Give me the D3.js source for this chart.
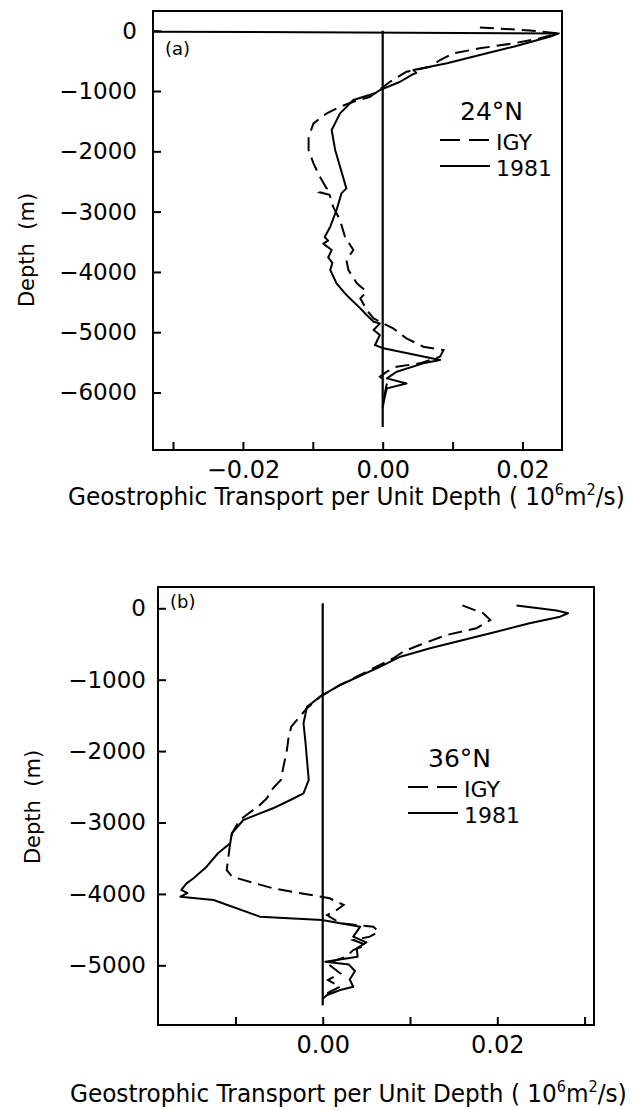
<!DOCTYPE html>
<html>
<head>
<meta charset="utf-8">
<script src="https://cdn.jsdelivr.net/npm/d3@7"></script>
<style>
body { margin: 0; background: #fff; }
text { font-family: "DejaVu Sans", sans-serif; fill: #000; }
</style>
</head>
<body>
<svg id="chart" width="634" height="1110"></svg>
<script>
// [transport (10^6 m^2/s per m), depth (m)]
var igy24 = [
    [0.0139, 55], [0.0175, 30], [0.0210, 5], [0.0250, -45], [0.0225, -126], [0.0187, -210],
    [0.0139, -292], [0.0101, -375], [0.0082, -486], [0.0068, -597], [0.0034, -680],
    [0.0010, -850], [-0.0018, -1095], [-0.0042, -1177], [-0.0061, -1260], [-0.0080, -1370],
    [-0.0099, -1536], [-0.0106, -1758], [-0.0106, -1978], [-0.0099, -2200], [-0.0090, -2421],
    [-0.0080, -2620], [-0.0090, -2680], [-0.0076, -2720], [-0.0071, -2919], [-0.0061, -3139],
    [-0.0054, -3416], [-0.0042, -3637], [-0.0052, -3803], [-0.0049, -3968], [-0.0037, -4189],
    [-0.0023, -4328], [-0.0032, -4438], [-0.0023, -4632], [-0.0013, -4770], [-0.0004, -4826],
    [0.0015, -4936], [0.0034, -5101], [0.0058, -5240], [0.0087, -5295], [0.0082, -5406],
    [0.0053, -5516], [0.0020, -5572], [0.0006, -5655], [-0.0004, -5738], [0.0006, -5849],
    [0.0003, -6014], [0.0000, -6235]
];
var y1981at24 = [
    [-0.0340, -15], [0.0252, -45], [0.0240, -95], [0.0187, -265], [0.0139, -403],
    [0.0092, -541], [0.0044, -652], [0.0048, -700], [0.0041, -735], [0.0025, -846],
    [-0.0004, -983], [-0.0011, -1038], [-0.0042, -1149], [-0.0061, -1370], [-0.0073, -1647],
    [-0.0068, -1978], [-0.0061, -2255], [-0.0052, -2614], [-0.0059, -2697], [-0.0066, -2973],
    [-0.0075, -3250], [-0.0083, -3420], [-0.0078, -3480], [-0.0085, -3530], [-0.0073, -3637],
    [-0.0078, -3760], [-0.0072, -3850], [-0.0075, -3968], [-0.0066, -4189], [-0.0056, -4328],
    [-0.0047, -4438], [-0.0032, -4604], [-0.0023, -4715], [-0.0013, -4826], [-0.0004, -4853],
    [-0.0013, -4963], [-0.0004, -5046], [-0.0011, -5212], [0.0001, -5267], [0.0082, -5461],
    [0.0058, -5516], [0.0020, -5655], [0.0006, -5765], [0.0034, -5849], [0.0006, -5931],
    [0.0003, -6070], [0.0000, -6250]
];
var igy36 = [
    [0.0160, 40], [0.0184, -70], [0.0192, -164], [0.0176, -280], [0.0142, -374],
    [0.0111, -514], [0.0092, -608], [0.0081, -700], [0.0058, -840], [0.0020, -1074],
    [-0.0003, -1238], [-0.0018, -1400], [-0.0028, -1541], [-0.0036, -1658], [-0.0039, -1798],
    [-0.0041, -1985], [-0.0045, -2218], [-0.0048, -2405], [-0.0057, -2521], [-0.0064, -2661],
    [-0.0072, -2755], [-0.0095, -2965], [-0.0104, -3151], [-0.0106, -3291], [-0.0108, -3479],
    [-0.0110, -3665], [-0.0104, -3759], [-0.0057, -3922], [0.0008, -4062], [0.0024, -4155],
    [0.0016, -4225], [0.0005, -4296], [0.0020, -4412], [0.0058, -4459], [0.0064, -4529],
    [0.0054, -4599], [0.0035, -4646], [0.0050, -4716], [0.0035, -4786], [0.0027, -4879],
    [0.0005, -4972], [0.0020, -5112], [0.0006, -5206], [0.0020, -5300], [0.0005, -5392],
    [0.0000, -5462]
];
var y1981at36 = [
    [0.0222, 40], [0.0268, -30], [0.0281, -70], [0.0272, -118], [0.0237, -210],
    [0.0199, -328], [0.0161, -444], [0.0123, -560], [0.0089, -678], [0.0066, -818],
    [0.0020, -1074], [-0.0003, -1238], [-0.0018, -1378], [-0.0022, -1611], [-0.0020, -1844],
    [-0.0018, -2125], [-0.0016, -2402], [-0.0022, -2591], [-0.0037, -2685], [-0.0057, -2801],
    [-0.0091, -2965], [-0.0104, -3151], [-0.0106, -3291], [-0.0120, -3431], [-0.0133, -3619],
    [-0.0148, -3781], [-0.0156, -3852], [-0.0162, -3945], [-0.0155, -3990], [-0.0163, -4039],
    [-0.0125, -4085], [-0.0072, -4319], [-0.0001, -4366], [0.0043, -4459], [0.0035, -4599],
    [0.0050, -4680], [0.0039, -4762], [0.0040, -4880], [0.0003, -4950], [0.0030, -4990],
    [0.0037, -5080], [0.0031, -5200], [0.0035, -5300], [0.0020, -5346], [0.0005, -5416],
    [0.0000, -5470]
];

var xTicks24 = [-0.03, -0.02, -0.01, 0, 0.01, 0.02];
var xTicks36 = [-0.01, 0, 0.01, 0.02, 0.03];
var xLabelled = [-0.02, 0, 0.02];
var depthTicks24 = [0, -1000, -2000, -3000, -4000, -5000, -6000];
var depthTicks36 = [0, -1000, -2000, -3000, -4000, -5000];
var legendNames = ['IGY', '1981'];
var latitudes = ['24°N', '36°N'];
var panelTags = ['(a)', '(b)'];

var svg = d3.select('#chart');
var fmtX = d3.format('.2f');

var panels = [
    {
        igy: igy24, recent: y1981at24, xTicks: xTicks24, depthTicks: depthTicks24,
        left: 153, top: 11, right: 562, bottom: 450,
        xDomain: [-0.03286, 0.02565], yDomain: [327, -6953],
        zeroLine: [0, -6570], yPad: 16,
        legendX: 440, legendY: 120, labelPos: [27, 250], titleX: 68, titleY: 505
    },
    {
        igy: igy36, recent: y1981at36, xTicks: xTicks36, depthTicks: depthTicks36,
        left: 158, top: 587, right: 594, bottom: 1025,
        xDomain: [-0.01887, 0.03108], yDomain: [298, -5836],
        zeroLine: [70, -5560], yPad: 12,
        legendX: 408, legendY: 767, labelPos: [33, 807], titleX: 70, titleY: 1102
    }
];

panels.forEach(function(p, i) {
    var x = d3.scaleLinear().domain(p.xDomain).range([p.left, p.right]);
    var y = d3.scaleLinear().domain(p.yDomain).range([p.top, p.bottom]);
    var g = svg.append('g');

    g.append('clipPath').attr('id', 'clip' + i)
        .append('rect')
        .attr('x', p.left).attr('y', p.top)
        .attr('width', p.right - p.left).attr('height', p.bottom - p.top);

    // ticks point inward
    g.append('g')
        .attr('transform', 'translate(0,' + p.bottom + ')')
        .call(d3.axisBottom(x).tickValues(p.xTicks).tickSize(-8).tickPadding(11)
            .tickFormat(function(d) {
                return xLabelled.some(function(v) { return Math.abs(v - d) < 1e-9; }) ? fmtX(d) : '';
            }))
        .call(function(a) {
            a.select('.domain').remove();
            a.selectAll('line').attr('stroke', '#000').attr('stroke-width', 2);
            a.selectAll('text').style('font-size', '24px').style('font-family', '"DejaVu Sans", sans-serif').attr('fill', '#000');
        });

    g.append('g')
        .attr('transform', 'translate(' + p.left + ',0)')
        .call(d3.axisLeft(y).tickValues(p.depthTicks).tickSize(-8).tickPadding(p.yPad)
            .tickFormat(d3.format('d')))
        .call(function(a) {
            a.select('.domain').remove();
            a.selectAll('line').attr('stroke', '#000').attr('stroke-width', 2);
            a.selectAll('text').style('font-size', '23px').style('font-family', '"DejaVu Sans", sans-serif').attr('fill', '#000');
        });

    g.append('rect')
        .attr('x', p.left).attr('y', p.top)
        .attr('width', p.right - p.left).attr('height', p.bottom - p.top)
        .attr('fill', 'none').attr('stroke', '#000').attr('stroke-width', 2);

    g.append('line')
        .attr('x1', x(0)).attr('x2', x(0))
        .attr('y1', y(p.zeroLine[0])).attr('y2', y(p.zeroLine[1]))
        .attr('stroke', '#000').attr('stroke-width', 2.2);

    var line = d3.line()
        .x(function(d) { return x(d[0]); })
        .y(function(d) { return y(d[1]); })
        .curve(d3.curveLinear);

    var curves = g.append('g').attr('clip-path', 'url(#clip' + i + ')');
    curves.append('path').datum(p.igy)
        .attr('d', line).attr('fill', 'none').attr('stroke', '#000')
        .attr('stroke-width', 2).attr('stroke-dasharray', '14,7');
    curves.append('path').datum(p.recent)
        .attr('d', line).attr('fill', 'none').attr('stroke', '#000')
        .attr('stroke-width', 2).attr('stroke-linejoin', 'round');

    g.append('text')
        .attr('x', p.left + 12).attr('y', p.top + (i === 0 ? 44 : 21))
        .style('font-size', '18px')
        .text(panelTags[i]);

    // legend
    var lx = p.legendX, ly = p.legendY;
    g.append('text').attr('x', lx + 20).attr('y', ly).style('font-size', '25px').text(latitudes[i]);
    g.append('line').attr('x1', lx).attr('x2', lx + 50).attr('y1', ly + 20).attr('y2', ly + 20)
        .attr('stroke', '#000').attr('stroke-width', 2).attr('stroke-dasharray', '20,9');
    g.append('text').attr('x', lx + 56).attr('y', ly + 30).style('font-size', '22px').text(legendNames[0]);
    g.append('line').attr('x1', lx).attr('x2', lx + 50).attr('y1', ly + 46).attr('y2', ly + 46)
        .attr('stroke', '#000').attr('stroke-width', 2);
    g.append('text').attr('x', lx + 56).attr('y', ly + 56).style('font-size', '22px').text(legendNames[1]);

    g.append('text')
        .attr('transform', 'translate(' + p.labelPos[0] + ',' + p.labelPos[1] + ') rotate(-90)')
        .attr('text-anchor', 'middle').attr('dy', '0.35em')
        .style('font-size', '21px').style('white-space', 'pre')
        .text('Depth  (m)');

    var title = g.append('text').style('font-size', '24px').attr('x', 0).attr('y', 0);
    title.append('tspan').text('Geostrophic Transport per Unit Depth ( 10');
    title.append('tspan').attr('dy', -10).style('font-size', '15px').text('6');
    title.append('tspan').attr('dy', 10).text('m');
    title.append('tspan').attr('dy', -10).style('font-size', '15px').text('2');
    title.append('tspan').attr('dy', 10).text('/s)');
    var w = title.node().getComputedTextLength();
    var sx = 557 / w;
    title.attr('transform', 'translate(' + p.titleX + ',' + p.titleY + ') scale(' + sx + ',1)');
});
</script>
</body>
</html>
